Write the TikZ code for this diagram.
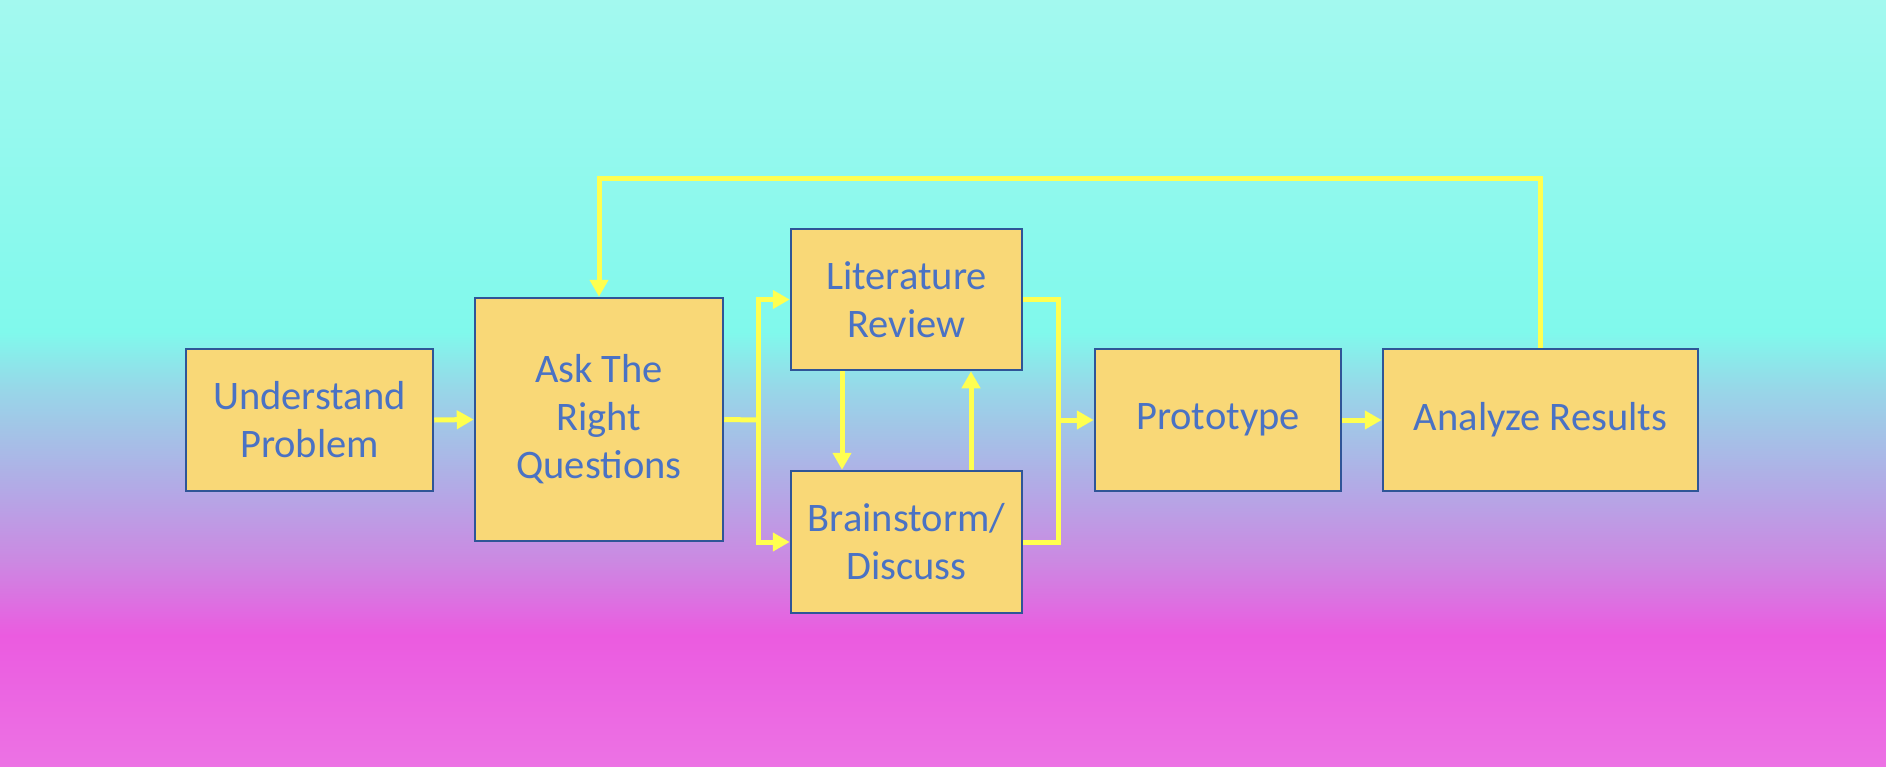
\documentclass[tikz,border=0pt]{standalone}
\usepackage{fontspec}
\setmainfont{Carlito}
\usetikzlibrary{arrows.meta}
\definecolor{boxfill}{HTML}{F9D877}
\definecolor{boxline}{HTML}{2F5597}
\definecolor{boxtext}{HTML}{4A72C4}
\definecolor{arrowyellow}{HTML}{FFFF50}
\definecolor{bgA}{HTML}{A3F9EF}
\definecolor{bgB}{HTML}{80F9EC}
\definecolor{bgC}{HTML}{98D6E8}
\definecolor{bgD}{HTML}{B3A9E6}
\definecolor{bgE}{HTML}{CC88E2}
\definecolor{bgF}{HTML}{EB5BE0}
\definecolor{bgG}{HTML}{EC72E4}
\begin{document}
\begin{tikzpicture}[x=1pt, y=-1pt,
  stage/.style={draw=boxline, line width=2.5pt, fill=boxfill, text=boxtext, inner sep=0pt,
    align=center, font=\fontsize{40.5}{48}\selectfont},
  link/.style={draw=arrowyellow, line width=5pt},
  arr/.style={link, -{Triangle[length=17pt,width=18pt]}}]
\useasboundingbox (0,0) rectangle (1886,766);
% background
\shade[top color=bgA, bottom color=bgB] (0,0) rectangle (1886,332.5);
\shade[top color=bgB, bottom color=bgC] (0,332) rectangle (1886,390.5);
\shade[top color=bgC, bottom color=bgD] (0,390) rectangle (1886,489.5);
\shade[top color=bgD, bottom color=bgE] (0,489) rectangle (1886,562.5);
\shade[top color=bgE, bottom color=bgF] (0,562) rectangle (1886,635.5);
\shade[top color=bgF, bottom color=bgG] (0,635) rectangle (1886,766);
% stages
\node[stage, minimum width=247pt, minimum height=142pt] (und) at (309.5,420){Understand\\Problem};
\node[stage, minimum width=248pt, minimum height=243pt] (ask) at (599,419.5){Ask The\\Right\\Questions};
\node[stage, minimum width=231pt, minimum height=141pt] (lit) at (906.5,299.5){Literature\\Review};
\node[stage, minimum width=231pt, minimum height=142pt] (brain) at (906.5,542){Brainstorm/\\Discuss};
\node[stage, minimum width=246pt, minimum height=142pt] (proto) at (1218,420){Prototype};
\node[stage, minimum width=315pt, minimum height=142pt] (anal) at (1540.5,420){Analyze Results};
\coordinate (split) at (758,420);
\coordinate (merge) at (1058,420);
\coordinate (looptop) at (1540.5,178);
% connectors
\draw[arr](und.east) -- (ask.west);
\draw[link](ask.east) -- (split);
\draw[arr](split) |- (lit.west);
\draw[arr](split) |- (brain.west);
\draw[arr]([xshift=-64.5pt]lit.south) -- ([xshift=-64.5pt]brain.north);
\draw[arr]([xshift=64.5pt]brain.north) -- ([xshift=64.5pt]lit.south);
\draw[link](lit.east) -| (merge);
\draw[link](brain.east) -| (merge);
\draw[arr](merge) -- (proto.west);
\draw[arr](proto.east) -- (anal.west);
\draw[arr](anal.north) -- (looptop) -| (ask.north);
\end{tikzpicture}
\end{document}
